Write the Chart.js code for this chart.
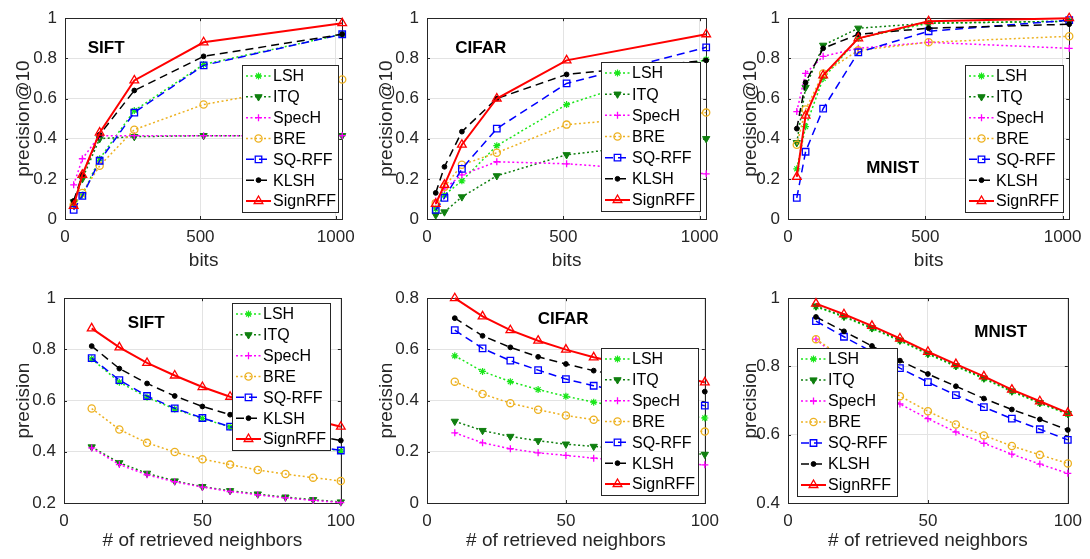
<!DOCTYPE html>
<html><head><meta charset="utf-8">
<script src="https://cdn.jsdelivr.net/npm/chart.js@4/dist/chart.umd.min.js"></script>
<style>
html,body{margin:0;padding:0;background:#fff;}
#wrap{position:relative;width:1090px;height:559px;overflow:hidden;background:#fff;}
#wrap canvas{position:absolute;}
</style></head><body><div id="wrap"></div>
<script>
// ---------- data ----------
const methods = ['LSH', 'ITQ', 'SpecH', 'BRE', 'SQ-RFF', 'KLSH', 'SignRFF'];
const bits = [32, 64, 128, 256, 512, 1024];
const neighbors = [10, 20, 30, 40, 50, 60, 70, 80, 90, 100];
const bitsTicks = [0, 500, 1000];
const neighborTicks = [0, 50, 100];
const precTicksBits = [0, 0.2, 0.4, 0.6, 0.8, 1];
const precTicksSiftN = [0.2, 0.4, 0.6, 0.8, 1];
const precTicksCifarN = [0, 0.2, 0.4, 0.6, 0.8];
const precTicksMnistN = [0.4, 0.6, 0.8, 1];

// rows follow `methods` order
const siftBits = [
  [0.07, 0.12, 0.30, 0.54, 0.77, 0.92],
  [0.085, 0.20, 0.40, 0.41, 0.415, 0.415],
  [0.17, 0.30, 0.415, 0.415, 0.415, 0.415],
  [0.07, 0.13, 0.265, 0.445, 0.57, 0.695],
  [0.045, 0.115, 0.29, 0.53, 0.765, 0.92],
  [0.09, 0.22, 0.42, 0.64, 0.81, 0.92],
  [0.065, 0.22, 0.43, 0.69, 0.88, 0.975]
];
const cifarBits = [
  [0.05, 0.12, 0.19, 0.365, 0.57, 0.795],
  [0.02, 0.035, 0.11, 0.215, 0.32, 0.40],
  [0.09, 0.15, 0.22, 0.285, 0.275, 0.225],
  [0.08, 0.16, 0.27, 0.33, 0.47, 0.53],
  [0.045, 0.105, 0.25, 0.45, 0.675, 0.855],
  [0.13, 0.26, 0.435, 0.60, 0.72, 0.79],
  [0.075, 0.17, 0.37, 0.60, 0.79, 0.92]
];
const mnistBits = [
  [0.25, 0.46, 0.70, 0.90, 0.975, 0.985],
  [0.38, 0.655, 0.865, 0.95, 0.975, 0.985],
  [0.535, 0.725, 0.81, 0.85, 0.88, 0.85],
  [0.37, 0.545, 0.725, 0.84, 0.88, 0.91],
  [0.105, 0.335, 0.55, 0.83, 0.935, 0.99],
  [0.45, 0.68, 0.85, 0.92, 0.95, 0.97],
  [0.21, 0.515, 0.715, 0.90, 0.985, 1.0]
];
const siftNeighbors = [
  [0.763, 0.672, 0.613, 0.567, 0.530, 0.497, 0.468, 0.443, 0.422, 0.403],
  [0.419, 0.357, 0.316, 0.286, 0.264, 0.248, 0.235, 0.223, 0.213, 0.204],
  [0.415, 0.350, 0.310, 0.283, 0.262, 0.245, 0.232, 0.220, 0.210, 0.202],
  [0.569, 0.487, 0.435, 0.399, 0.371, 0.350, 0.329, 0.313, 0.299, 0.286],
  [0.766, 0.680, 0.618, 0.570, 0.532, 0.498, 0.470, 0.445, 0.423, 0.405],
  [0.813, 0.725, 0.667, 0.618, 0.577, 0.545, 0.515, 0.490, 0.465, 0.444],
  [0.882, 0.808, 0.747, 0.698, 0.653, 0.615, 0.580, 0.550, 0.525, 0.498]
];
const cifarNeighbors = [
  [0.575, 0.514, 0.474, 0.443, 0.417, 0.394, 0.375, 0.360, 0.345, 0.332],
  [0.319, 0.283, 0.260, 0.243, 0.230, 0.221, 0.212, 0.205, 0.198, 0.190],
  [0.274, 0.235, 0.212, 0.196, 0.186, 0.175, 0.168, 0.161, 0.155, 0.149],
  [0.474, 0.426, 0.390, 0.364, 0.342, 0.325, 0.310, 0.297, 0.286, 0.279],
  [0.675, 0.604, 0.556, 0.519, 0.484, 0.458, 0.436, 0.417, 0.400, 0.380],
  [0.722, 0.653, 0.608, 0.571, 0.543, 0.517, 0.496, 0.477, 0.460, 0.435],
  [0.800, 0.729, 0.675, 0.634, 0.599, 0.569, 0.545, 0.520, 0.500, 0.471]
];
const mnistNeighbors = [
  [0.975, 0.945, 0.911, 0.875, 0.836, 0.800, 0.764, 0.726, 0.692, 0.660],
  [0.977, 0.947, 0.913, 0.877, 0.838, 0.802, 0.766, 0.728, 0.694, 0.662],
  [0.880, 0.810, 0.745, 0.690, 0.647, 0.608, 0.575, 0.543, 0.514, 0.487],
  [0.880, 0.825, 0.765, 0.713, 0.669, 0.630, 0.598, 0.567, 0.541, 0.516],
  [0.933, 0.887, 0.843, 0.795, 0.754, 0.716, 0.681, 0.647, 0.616, 0.585],
  [0.945, 0.903, 0.860, 0.817, 0.778, 0.742, 0.706, 0.674, 0.645, 0.614],
  [0.984, 0.953, 0.919, 0.882, 0.843, 0.807, 0.771, 0.732, 0.698, 0.664]
];

// ---------- styles ----------
const FONT = '"Liberation Sans", Arial, Helvetica, sans-serif';
const AXC = '#262626';
const GRID = '#e3e3e3';
const styles = [
  {color: '#19e619', dash: [2, 2.5], lw: 1.5, point: 'star', r: 3.5, fill: 'rgba(0,0,0,0)', pw: 1.2, rot: 0},
  {color: '#0f7f0f', dash: [2, 2.5], lw: 1.5, point: 'triangle', r: 4.2, fill: '#0f7f0f', pw: 1, rot: 180},
  {color: '#ff00ff', dash: [2, 2.5], lw: 1.5, point: 'cross', r: 3.5, fill: 'rgba(0,0,0,0)', pw: 1.3, rot: 0},
  {color: '#edb120', dash: [2, 2.5], lw: 1.5, point: 'circle', r: 3.6, fill: 'rgba(0,0,0,0)', pw: 1.3, rot: 0},
  {color: '#0000ff', dash: [8, 5], lw: 1.5, point: 'rect', r: 4.6, fill: 'rgba(0,0,0,0)', pw: 1.3, rot: 0},
  {color: '#000000', dash: [8, 5], lw: 1.5, point: 'circle', r: 2.4, fill: '#000000', pw: 1, rot: 0},
  {color: '#ff0000', dash: [], lw: 2, point: 'triangle', r: 5, fill: 'rgba(0,0,0,0)', pw: 1.3, rot: 0}
];

function drawMarker(ctx, st, x, y) {
  ctx.save();
  ctx.setLineDash([]);
  ctx.lineWidth = st.pw;
  ctx.strokeStyle = st.color;
  ctx.fillStyle = st.fill;
  const r = st.r;
  ctx.beginPath();
  if (st.point === 'circle') {
    ctx.arc(x, y, r, 0, Math.PI * 2);
    ctx.fill(); ctx.stroke();
  } else if (st.point === 'rect') {
    const s = r * Math.SQRT1_2;
    ctx.rect(x - s, y - s, 2 * s, 2 * s);
    ctx.fill(); ctx.stroke();
  } else if (st.point === 'triangle') {
    let a = st.rot * Math.PI / 180;
    ctx.moveTo(x + Math.sin(a) * r, y - Math.cos(a) * r);
    a += 2 * Math.PI / 3;
    ctx.lineTo(x + Math.sin(a) * r, y - Math.cos(a) * r);
    a += 2 * Math.PI / 3;
    ctx.lineTo(x + Math.sin(a) * r, y - Math.cos(a) * r);
    ctx.closePath();
    ctx.fill(); ctx.stroke();
  } else if (st.point === 'cross') {
    ctx.moveTo(x - r, y); ctx.lineTo(x + r, y);
    ctx.moveTo(x, y - r); ctx.lineTo(x, y + r);
    ctx.stroke();
  } else if (st.point === 'star') {
    ctx.moveTo(x - r, y); ctx.lineTo(x + r, y);
    ctx.moveTo(x, y - r); ctx.lineTo(x, y + r);
    const d = r * Math.SQRT1_2;
    ctx.moveTo(x - d, y - d); ctx.lineTo(x + d, y + d);
    ctx.moveTo(x - d, y + d); ctx.lineTo(x + d, y - d);
    ctx.stroke();
  }
  ctx.restore();
}

const decoPlugin = {
  id: 'deco',
  beforeDatasetsDraw(chart) {
    const ctx = chart.ctx, a = chart.chartArea;
    const xs = chart.scales.x, ys = chart.scales.y;
    ctx.save();
    ctx.strokeStyle = AXC;
    ctx.lineWidth = 1;
    ctx.setLineDash([]);
    ctx.beginPath();
    const tl = 3;
    xs.ticks.forEach(t => {
      const px = Math.round(xs.getPixelForValue(t.value)) + 0.5;
      ctx.moveTo(px, a.bottom); ctx.lineTo(px, a.bottom - tl);
      ctx.moveTo(px, a.top); ctx.lineTo(px, a.top + tl);
    });
    ys.ticks.forEach(t => {
      const py = Math.round(ys.getPixelForValue(t.value)) + 0.5;
      ctx.moveTo(a.left, py); ctx.lineTo(a.left + tl, py);
      ctx.moveTo(a.right, py); ctx.lineTo(a.right - tl, py);
    });
    ctx.stroke();
    ctx.strokeRect(Math.round(a.left) + 0.5, Math.round(a.top) + 0.5,
      Math.round(a.right - a.left), Math.round(a.bottom - a.top));
    ctx.restore();
  },
  afterDatasetsDraw(chart) {
    const ctx = chart.ctx;
    const o = chart.options.plugins.deco;
    const xs = chart.scales.x, ys = chart.scales.y;
    ctx.save();
    // annotation
    ctx.font = 'bold 17px ' + FONT;
    ctx.fillStyle = '#000';
    ctx.textAlign = 'center';
    ctx.textBaseline = 'middle';
    ctx.fillText(o.tag.text, xs.getPixelForValue(o.tag.x), ys.getPixelForValue(o.tag.y));
    // legend
    const L = o.legend;
    ctx.fillStyle = '#fff';
    ctx.fillRect(L.x, L.y, L.w, L.h);
    ctx.strokeStyle = AXC;
    ctx.lineWidth = 1;
    ctx.strokeRect(L.x + 0.5, L.y + 0.5, L.w, L.h);
    const rowH = (L.h - 22) / 6;
    ctx.font = '16px ' + FONT;
    ctx.textAlign = 'left';
    ctx.textBaseline = 'middle';
    methods.forEach((m, i) => {
      const st = styles[i];
      const cy = L.y + 11 + i * rowH;
      ctx.save();
      ctx.strokeStyle = st.color;
      ctx.lineWidth = st.lw;
      ctx.setLineDash(st.dash);
      ctx.beginPath();
      ctx.moveTo(L.x + 4, cy); ctx.lineTo(L.x + 29, cy);
      ctx.stroke();
      ctx.restore();
      drawMarker(ctx, st, L.x + 16.5, cy);
      ctx.fillStyle = '#000';
      ctx.fillText(m, L.x + 31, cy + 1);
    });
    ctx.restore();
  }
};

// ---------- panels ----------
const panels = [
  {box: [0, 0, 363, 280], area: [65, 347, 13, 219], xv: bits, xTicks: bitsTicks, xMax: 1024, yTicks: precTicksBits,
   vals: siftBits, xTitle: 'bits', yTitle: 'precision@10', tag: {text: 'SIFT', x: 152, y: 0.85},
   legend: {x: 242, y: 65, w: 96, h: 147}},
  {box: [363, 0, 364, 280], area: [427, 708, 13, 219], xv: bits, xTicks: bitsTicks, xMax: 1024, yTicks: precTicksBits,
   vals: cifarBits, xTitle: 'bits', yTitle: 'precision@10', tag: {text: 'CIFAR', x: 197, y: 0.85},
   legend: {x: 238, y: 62, w: 99, h: 149}},
  {box: [727, 0, 363, 280], area: [788, 1070, 13, 219], xv: bits, xTicks: bitsTicks, xMax: 1024, yTicks: precTicksBits,
   vals: mnistBits, xTitle: 'bits', yTitle: 'precision@10', tag: {text: 'MNIST', x: 381, y: 0.25},
   legend: {x: 238, y: 65, w: 98, h: 147}},
  {box: [0, 280, 363, 279], area: [64, 347, 296, 503], xv: neighbors, xTicks: neighborTicks, xMax: 100, yTicks: precTicksSiftN,
   vals: siftNeighbors, xTitle: '# of retrieved neighbors', yTitle: 'precision', tag: {text: 'SIFT', x: 29.7, y: 0.9},
   legend: {x: 232, y: 23, w: 98, h: 147}},
  {box: [363, 280, 364, 279], area: [427, 708, 296, 503], xv: neighbors, xTicks: neighborTicks, xMax: 100, yTicks: precTicksCifarN,
   vals: cifarNeighbors, xTitle: '# of retrieved neighbors', yTitle: 'precision', tag: {text: 'CIFAR', x: 49, y: 0.718},
   legend: {x: 238, y: 68, w: 97, h: 147}},
  {box: [727, 280, 363, 279], area: [788, 1070, 296, 503], xv: neighbors, xTicks: neighborTicks, xMax: 100, yTicks: precTicksMnistN,
   vals: mnistNeighbors, xTitle: '# of retrieved neighbors', yTitle: 'precision', tag: {text: 'MNIST', x: 76, y: 0.9},
   legend: {x: 70, y: 68, w: 100, h: 148}}
];

const wrap = document.getElementById('wrap');
panels.forEach(p => {
  const [bx, by, bw, bh] = p.box;
  const [al, ar, at, ab] = p.area;
  const cv = document.createElement('canvas');
  cv.width = bw; cv.height = bh;
  cv.style.left = bx + 'px'; cv.style.top = by + 'px';
  cv.style.width = bw + 'px'; cv.style.height = bh + 'px';
  wrap.appendChild(cv);
  const yW = al - bx, padR = bx + bw - ar, padT = at - by, xH = by + bh - ab;
  const isTop = by === 0;
  const datasets = methods.map((m, i) => {
    const st = styles[i];
    return {
      label: m,
      data: p.xv.map((x, j) => ({x: x, y: p.vals[i][j]})),
      borderColor: st.color, borderWidth: st.lw, borderDash: st.dash,
      pointStyle: st.point, pointRadius: st.r, pointBorderWidth: st.pw,
      pointBorderColor: st.color, pointBackgroundColor: st.fill, pointRotation: st.rot,
      fill: false, tension: 0, clip: false, order: methods.length - i
    };
  });
  new Chart(cv, {
    type: 'line',
    data: {datasets},
    plugins: [decoPlugin],
    options: {
      responsive: false, animation: false, events: [], devicePixelRatio: 1,
      layout: {padding: {left: 0, right: padR, top: padT, bottom: 0}},
      plugins: {legend: {display: false}, tooltip: {enabled: false},
        deco: {tag: p.tag, legend: p.legend}},
      scales: {
        x: {
          type: 'linear', min: 0, max: p.xMax,
          afterBuildTicks: s => { s.ticks = p.xTicks.map(v => ({value: v})); },
          afterFit: s => { s.height = xH; },
          ticks: {font: {family: FONT, size: 17}, color: AXC, padding: 8, maxRotation: 0, autoSkip: false,
                  callback: v => String(v)},
          grid: {color: GRID, drawTicks: false, lineWidth: 1},
          border: {display: false},
          title: {display: true, text: p.xTitle, color: AXC, font: {family: FONT, size: 19},
                  padding: {top: 0, bottom: isTop ? 8 : 7}}
        },
        y: {
          type: 'linear', min: p.yTicks[0], max: p.yTicks[p.yTicks.length - 1],
          afterBuildTicks: s => { s.ticks = p.yTicks.map(v => ({value: v})); },
          afterFit: s => { s.width = yW; },
          ticks: {font: {family: FONT, size: 17}, color: AXC, padding: 8, autoSkip: false,
                  callback: v => String(v)},
          grid: {color: GRID, drawTicks: false, lineWidth: 1},
          border: {display: false},
          title: {display: true, text: p.yTitle, color: AXC, font: {family: FONT, size: 19},
                  padding: {top: 12, bottom: 0}}
        }
      }
    }
  });
});
</script>
</body></html>
